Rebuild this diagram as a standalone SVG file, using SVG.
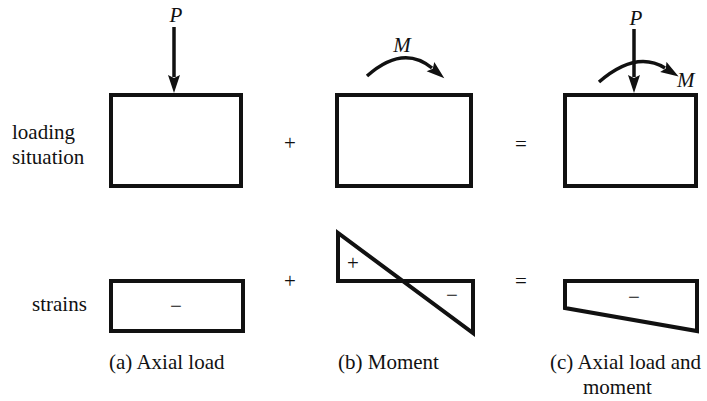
<svg xmlns="http://www.w3.org/2000/svg" width="707" height="401" viewBox="0 0 707 401">
<style>
.box{fill:none;stroke:#111;stroke-width:4;stroke-linejoin:miter}
.t{font-family:"Liberation Serif","Times New Roman",serif;font-size:21px;fill:#111}
.it{font-style:italic}
.ln{fill:none;stroke:#111;stroke-width:3.5}
</style>
<defs>
<marker id="ah" markerUnits="userSpaceOnUse" markerWidth="20" markerHeight="14" refX="2" refY="6" orient="auto">
<path d="M0,0 L18,6 L0,12 L3,6 z" fill="#111"/>
</marker>
</defs>
<g id="labels">
<text class="t" x="12" y="139">loading</text>
<text class="t" x="12" y="164">situation</text>
<text class="t" x="32" y="311">strains</text>
</g>
<g id="load-a">
<rect class="box" x="111" y="95" width="130" height="91"/>
</g>
<g id="load-b">
<rect class="box" x="337" y="95" width="134" height="91"/>
</g>
<g id="load-c">
<rect class="box" x="565" y="95" width="131" height="91"/>
</g>
<g id="ops">
<text class="t" x="290" y="150" text-anchor="middle" font-size="23">+</text>
<text class="t" x="521" y="151" text-anchor="middle">=</text>
<text class="t" x="290" y="288" text-anchor="middle" font-size="23">+</text>
<text class="t" x="521" y="288" text-anchor="middle">=</text>
</g>
<g id="strain-a">
<rect class="box" x="111" y="281" width="132" height="50"/>
<text class="t" x="176" y="313" text-anchor="middle">−</text>
</g>
<g id="strain-b">
<path class="box" d="M338,233 L338,281 L473,281 L473,333 Z"/>
<text class="t" x="353" y="270" text-anchor="middle">+</text>
<text class="t" x="452" y="302" text-anchor="middle">−</text>
</g>
<g id="strain-c">
<path class="box" d="M565,281 L697,281 L697,331 L565,308 Z"/>
<text class="t" x="634" y="304" text-anchor="middle">−</text>
</g>
<g id="captions">
<text class="t" x="109" y="369">(a) Axial load</text>
<text class="t" x="338" y="369">(b) Moment</text>
<text class="t" x="550" y="369">(c) Axial load and</text>
<text class="t" x="583" y="394">moment</text>
</g>
<g id="connectors">
<line class="ln" x1="174" y1="27" x2="174" y2="77" marker-end="url(#ah)"/>
<line class="ln" x1="634" y1="29" x2="634" y2="77" marker-end="url(#ah)"/>
<path class="ln" d="M367,76 Q403,44 432,68" marker-end="url(#ah)"/>
<path class="ln" d="M599,82 Q636,50 665,68" marker-end="url(#ah)"/>
</g>
<g id="loads">
<text class="t it" x="176" y="22" text-anchor="middle">P</text>
<text class="t it" x="636" y="25" text-anchor="middle">P</text>
<text class="t it" x="402" y="52" text-anchor="middle">M</text>
<text class="t it" x="677" y="87">M</text>
</g>
</svg>
